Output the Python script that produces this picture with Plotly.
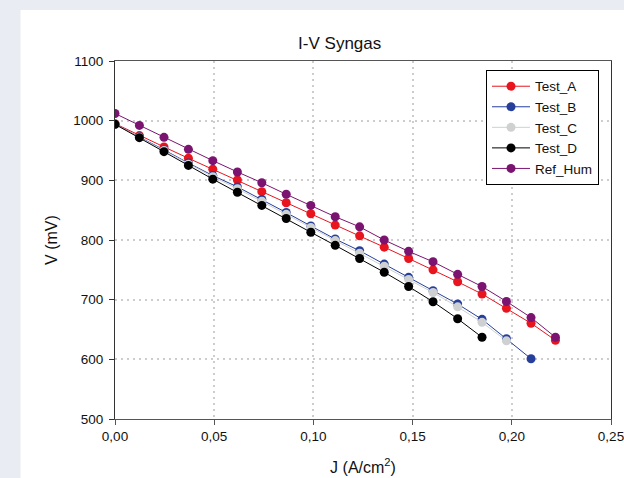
import plotly.graph_objects as go

J = [0.0, 0.0123, 0.0247, 0.0370, 0.0493, 0.0617, 0.0740, 0.0863, 0.0987, 0.1110,
     0.1233, 0.1357, 0.1480, 0.1603, 0.1727, 0.1850, 0.1973, 0.2097, 0.2220]

test_a = [995, 975, 956, 937, 918.5, 900.5, 881, 862.5, 844, 825, 807, 788, 769, 750, 730, 709.5, 685.5, 660.5, 632]
test_b = [994, 973, 951, 929, 908, 889, 868, 846, 823.5, 801.6, 782, 759.6, 737.4, 715, 692.7, 667, 634.7, 601]
test_c = [994, 972, 950, 927, 906, 886, 865, 843, 821, 799, 778, 756, 734, 712, 688, 662, 631]
test_d = [994, 971.5, 948, 925, 902, 880, 858, 836, 813, 791, 769, 746, 722, 696.5, 668, 637]
ref_hum = [1012, 992, 972, 952, 933, 914, 896, 876.6, 858, 839, 822, 800, 781, 763.5, 742.5, 722, 697, 670, 637]

x_ticks = [0, 0.05, 0.10, 0.15, 0.20, 0.25]
y_ticks = [500, 600, 700, 800, 900, 1000, 1100]

series = [
    ("Test_A", test_a, "#e8141e"),
    ("Test_B", test_b, "#263f9a"),
    ("Test_C", test_c, "#cfd0d2"),
    ("Test_D", test_d, "#000000"),
    ("Ref_Hum", ref_hum, "#7a1470"),
]

fig = go.Figure()
for name, vals, col in series:
    fig.add_trace(go.Scatter(
        x=J[:len(vals)], y=vals, name=name, mode="lines+markers",
        line=dict(color=col, width=1),
        marker=dict(color=col, size=9),
    ))

fig.update_layout(
    width=624, height=478,
    margin=dict(l=115, r=13, t=61, b=59),
    paper_bgcolor="#eaecf3",
    plot_bgcolor="white",
    separators=", ",
    font=dict(family="Liberation Sans, Arial, sans-serif", color="#111", size=13),
    title=dict(text="I-V Syngas", x=0.453, xref="paper", xanchor="center",
               y=1 - 43 / 478, yref="container", yanchor="middle",
               font=dict(size=17, color="#111")),
    showlegend=True,
    legend=dict(x=0.748, y=0.975, xanchor="left", yanchor="top",
                bgcolor="white", bordercolor="#000", borderwidth=1,
                font=dict(size=13.5, color="#111"), tracegroupgap=0,
                itemwidth=38),
    shapes=[dict(type="rect", xref="paper", yref="paper",
                 x0=-0.1905, x1=1.1, y0=-0.2, y1=1.1425,
                 fillcolor="white", line=dict(width=0), layer="below")],
)

fig.update_xaxes(
    range=[0, 0.25], tickvals=x_ticks, tickformat=".2f", automargin=False,
    ticklabeloverflow="allow",
    showline=True, linecolor="#555", linewidth=1, mirror=True,
    ticks="outside", ticklen=5, tickcolor="#555",
    showgrid=True, gridcolor="#cdcdcd", gridwidth=2, griddash="2px,4px",
    zeroline=False,
    title=dict(text="J (A/cm<sup>2</sup>)", font=dict(size=16), standoff=18),
    tickfont=dict(size=13.5),
)
fig.update_yaxes(
    range=[500, 1100], tickvals=y_ticks, automargin=False,
    showline=True, linecolor="#333", linewidth=1, mirror=True,
    ticks="outside", ticklen=5, tickcolor="#333", ticklabelstandoff=3,
    showgrid=True, gridcolor="#cdcdcd", gridwidth=2, griddash="2px,4px",
    zeroline=False,
    title=dict(text="V (mV)", font=dict(size=16), standoff=11),
    tickfont=dict(size=13.5),
)

fig.write_html("out.html", config={"displayModeBar": False},
               post_script="document.body.style.margin='0px';document.body.style.background='#eaecf3';")
